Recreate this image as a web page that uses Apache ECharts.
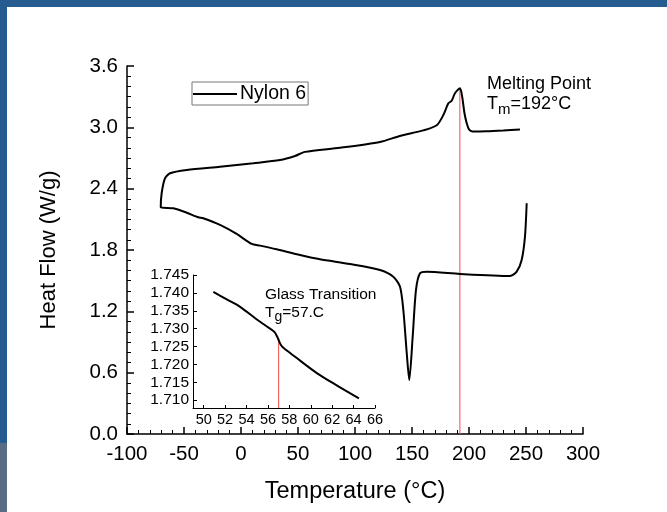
<!DOCTYPE html>
<html>
<head>
<meta charset="utf-8">
<script src="https://cdn.jsdelivr.net/npm/echarts@6/dist/echarts.min.js"></script>
<style>
  html, body { margin: 0; padding: 0; background: #fff; }
  #chart { width: 667px; height: 512px; }
</style>
</head>
<body>
<div id="chart"></div>
<script>
// DSC loop of Nylon 6: upper branch from right to left, then lower branch left to right
var temp = [244.7, 230, 215, 203, 200, 198, 196, 194, 192.1, 187.7, 184.8, 181.9, 177.5, 171.7, 159.9, 139.5, 121.9, 86.8, 56.1, 47.4, 34.2, 10.8, -18.4, -47.6, -62.3, -66.7, -69.6, -70.4,
  -59.4, -47.6, -37.5, -33.1, -18.4, -3.8, 9.4, 16.7, 31.3, 51.8, 69.3, 95.6, 121.9, 133.6, 139.5, 142.4, 145.4, 147.6, 150.6, 153.5, 157, 162.9, 192.1, 236, 241.8, 246.2, 249.1, 250.6];
var heatFlow = [2.98, 2.97, 2.962, 2.96, 2.98, 3.04, 3.14, 3.30, 3.383, 3.334, 3.26, 3.235, 3.12, 3.02, 2.97, 2.916, 2.857, 2.80, 2.76, 2.72, 2.68, 2.649, 2.615, 2.583, 2.551, 2.50, 2.355, 2.218,
  2.208, 2.165, 2.12, 2.11, 2.045, 1.957, 1.859, 1.843, 1.807, 1.751, 1.709, 1.663, 1.605, 1.539, 1.441, 1.213, 0.79, 0.528, 0.952, 1.409, 1.572, 1.588, 1.566, 1.546, 1.588, 1.703, 1.931, 2.257];

// inset: glass transition region
var insetTemp = [50.9, 52.2, 53.4, 54.9, 55.8, 56.6, 56.9, 57.2, 57.5, 58.5, 60.6, 62.5, 64.5];
var insetFlow = [1.7403, 1.7381, 1.7361, 1.7327, 1.7308, 1.7291, 1.7275, 1.7255, 1.7245, 1.7222, 1.7175, 1.7140, 1.7105];

var meltTemp = [192, 192];
var meltFlow = [0, 3.383];
var glassTemp = [57, 57];
var glassFlow = [1.7078, 1.7273];

var insetXTicks = [50, 52, 54, 56, 58, 60, 62, 64, 66];
var insetYTicks = [1.710, 1.715, 1.720, 1.725, 1.730, 1.735, 1.740, 1.745];

function pairs(xs, ys) {
  return xs.map(function (x, i) { return [x, ys[i]]; });
}

var font = 'Liberation Sans';
var black = '#000';

var chart = echarts.init(document.getElementById('chart'));
chart.setOption({
  animation: false,
  backgroundColor: '#fff',
  grid: [
    { left: 127, top: 66, width: 456, height: 368 },
    { left: 193, top: 275, width: 182, height: 133 }
  ],
  legend: {
    data: [{ name: 'Nylon 6', icon: 'rect' }],
    left: 192,
    top: 82,
    padding: [2, 2, 1, 1],
    itemGap: 0,
    itemWidth: 44,
    itemHeight: 2,
    borderColor: '#777',
    borderWidth: 1,
    textStyle: { color: black, fontSize: 19.5, fontFamily: font, padding: [0, 0, 0, -2] }
  },
  xAxis: [
    {
      gridIndex: 0,
      type: 'value',
      min: -100,
      max: 300,
      interval: 50,
      name: 'Temperature (°C)',
      nameLocation: 'middle',
      nameGap: 46,
      nameTextStyle: { color: black, fontSize: 23.5, fontFamily: font },
      axisLine: { show: true, onZero: false, lineStyle: { color: black, width: 1.5 } },
      axisTick: { show: true, inside: true, length: 7, lineStyle: { color: black, width: 1.5 } },
      minorTick: { show: true, splitNumber: 5, length: 4, lineStyle: { color: black, width: 1 } },
      splitLine: { show: false },
      axisLabel: { color: black, fontSize: 20.5, fontFamily: font, margin: 10 }
    },
    {
      gridIndex: 1,
      type: 'value',
      min: 49,
      max: 66,
      axisLine: { show: true, onZero: false, lineStyle: { color: black, width: 1 } },
      axisTick: { show: true, inside: true, length: 3, customValues: insetXTicks, lineStyle: { color: black } },
      splitLine: { show: false },
      axisLabel: { customValues: insetXTicks, color: black, fontSize: 14.5, fontFamily: font, margin: 4 }
    }
  ],
  yAxis: [
    {
      gridIndex: 0,
      type: 'value',
      min: 0,
      max: 3.6,
      interval: 0.6,
      name: 'Heat Flow (W/g)',
      nameLocation: 'middle',
      nameGap: 67,
      nameTextStyle: { color: black, fontSize: 22, fontFamily: font },
      axisLine: { show: true, onZero: false, lineStyle: { color: black, width: 1.5 } },
      axisTick: { show: true, inside: true, length: 7, lineStyle: { color: black, width: 1.5 } },
      minorTick: { show: true, splitNumber: 6, length: 4, lineStyle: { color: black, width: 1 } },
      splitLine: { show: false },
      axisLabel: {
        color: black, fontSize: 20.5, fontFamily: font, margin: 9,
        formatter: function (v) { return v.toFixed(1); }
      }
    },
    {
      gridIndex: 1,
      type: 'value',
      min: 1.7078,
      max: 1.745,
      axisLine: { show: true, onZero: false, lineStyle: { color: black, width: 1 } },
      axisTick: { show: true, inside: true, length: 4, customValues: insetYTicks, lineStyle: { color: black } },
      splitLine: { show: false },
      axisLabel: {
        customValues: insetYTicks, color: black, fontSize: 15.5, fontFamily: font, margin: 4,
        formatter: function (v) { return v.toFixed(3); }
      }
    }
  ],
  series: [
    {
      name: 'Nylon 6',
      type: 'line',
      xAxisIndex: 0,
      yAxisIndex: 0,
      data: pairs(temp, heatFlow),
      showSymbol: false,
      symbol: 'none',
      smooth: 0.25,
      lineStyle: { color: black, width: 2 },
      itemStyle: { color: black }
    },
    {
      name: 'Tm',
      type: 'line',
      xAxisIndex: 0,
      yAxisIndex: 0,
      data: pairs(meltTemp, meltFlow),
      symbol: 'none',
      z: 1,
      lineStyle: { color: '#f04a4a', width: 1 }
    },
    {
      name: 'inset',
      type: 'line',
      xAxisIndex: 1,
      yAxisIndex: 1,
      data: pairs(insetTemp, insetFlow),
      symbol: 'none',
      smooth: 0.3,
      lineStyle: { color: black, width: 2 }
    },
    {
      name: 'Tg',
      type: 'line',
      xAxisIndex: 1,
      yAxisIndex: 1,
      data: pairs(glassTemp, glassFlow),
      symbol: 'none',
      z: 1,
      lineStyle: { color: '#f04a4a', width: 1 }
    }
  ],
  graphic: [
    // slide frame
    { type: 'rect', left: 0, top: 0, shape: { width: 667, height: 7 }, style: { fill: '#255b8e' }, silent: true },
    { type: 'rect', left: 0, top: 0, shape: { width: 7, height: 443 }, style: { fill: '#255b8e' }, silent: true },
    { type: 'rect', left: 0, top: 443, shape: { width: 7, height: 69 }, style: { fill: '#586d85' }, silent: true },
    // annotations
    { type: 'text', left: 487, top: 75, style: { text: 'Melting Point', fill: black, font: '18px "Liberation Sans"' } },
    {
      type: 'text', left: 487, top: 95,
      style: {
        text: '{a|T}{s|m}{a|=192°C}',
        rich: {
          a: { fontSize: 18, fontFamily: font, fill: black },
          s: { fontSize: 15, fontFamily: font, fill: black, padding: [11, 0, 0, 0] }
        }
      }
    },
    { type: 'text', left: 265, top: 287, style: { text: 'Glass Transition', fill: black, font: '15.5px "Liberation Sans"' } },
    {
      type: 'text', left: 265, top: 305,
      style: {
        text: '{a|T}{s|g}{a|=57.C}',
        rich: {
          a: { fontSize: 15.5, fontFamily: font, fill: black },
          s: { fontSize: 14, fontFamily: font, fill: black, padding: [8, 0, 0, 0] }
        }
      }
    }
  ]
});
</script>
</body>
</html>
